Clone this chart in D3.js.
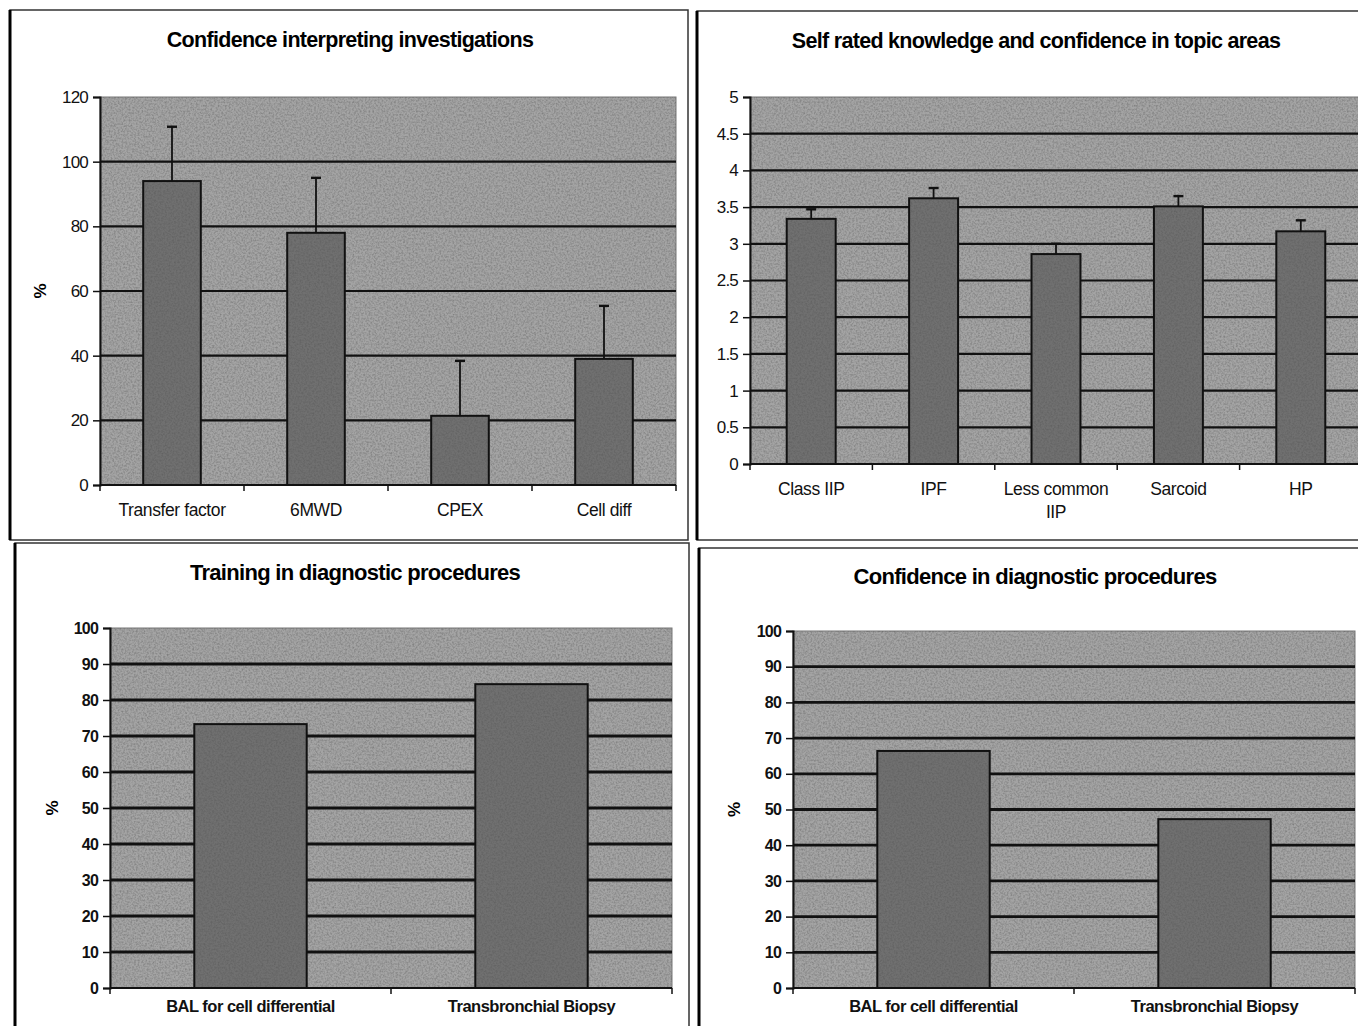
<!DOCTYPE html>
<html>
<head>
<meta charset="utf-8">
<script src="https://cdn.jsdelivr.net/npm/d3@7"></script>
<style>
  body { margin: 0; background: #fff; }
  svg { display: block; font-family: "Liberation Sans", Arial, sans-serif; }
</style>
</head>
<body>
<svg id="fig" width="1358" height="1026"></svg>
<script>
// data
const invCategories = ["Transfer factor", "6MWD", "CPEX", "Cell diff"];
const invValues = [94, 78, 21.4, 39];
const invErrors = [16.8, 17, 17, 16.4];
const invTicks = [0, 20, 40, 60, 80, 100, 120];

const topicCategories = ["Class IIP", "IPF", "Less common IIP", "Sarcoid", "HP"];
const topicValues = [3.34, 3.62, 2.86, 3.51, 3.17];
const topicErrors = [0.13, 0.14, 0.14, 0.14, 0.15];
const topicTicks = [0, 0.5, 1, 1.5, 2, 2.5, 3, 3.5, 4, 4.5, 5];

const procCategories = ["BAL for cell differential", "Transbronchial Biopsy"];
const trainingValues = [73.3, 84.4];
const confidenceValues = [66.4, 47.3];
const procTicks = [0, 10, 20, 30, 40, 50, 60, 70, 80, 90, 100];

const svg = d3.select("#fig");

// grainy texture like the scanned excel fill
const defs = svg.append("defs");
const f = defs.append("filter").attr("id", "grain").attr("x", 0).attr("y", 0).attr("width", 1).attr("height", 1);
f.append("feTurbulence").attr("type", "fractalNoise").attr("baseFrequency", 0.55).attr("numOctaves", 2).attr("seed", 3).attr("result", "n");
f.append("feColorMatrix").attr("in", "n").attr("type", "matrix")
  .attr("values", "0 0 0 0 0  0 0 0 0 0  0 0 0 0 0  0 0 0 -1.2 0.75");
f.append("feComposite").attr("in2", "SourceGraphic").attr("operator", "in");

function drawPanel(o) {
  const g = svg.append("g");

  // panel frame
  g.append("rect")
    .attr("x", o.frame[0]).attr("y", o.frame[1])
    .attr("width", o.frame[2]).attr("height", o.frame[3])
    .attr("fill", "#fff").attr("stroke", "#333").attr("stroke-width", 1.5);
  g.append("line")
    .attr("x1", o.frame[0]).attr("x2", o.frame[0])
    .attr("y1", o.frame[1]).attr("y2", o.frame[1] + o.frame[3])
    .attr("stroke", "#000").attr("stroke-width", 3);

  g.append("text")
    .attr("x", o.titleX).attr("y", o.titleY)
    .attr("text-anchor", "middle")
    .attr("font-size", o.titleFont).attr("font-weight", "bold")
    .attr("letter-spacing", -0.7)
    .text(o.title);

  const x = d3.scaleBand().domain(o.categories)
    .range([o.left, o.right]).paddingInner(0.6).paddingOuter(0.3);
  const y = d3.scaleLinear().domain([0, o.max]).range([o.bottom, o.top]);

  // plot area
  g.append("rect")
    .attr("x", o.left).attr("y", o.top)
    .attr("width", o.right - o.left).attr("height", o.bottom - o.top)
    .attr("fill", "#a4a4a4").attr("stroke", "#777").attr("stroke-width", 1);
  g.append("rect")
    .attr("x", o.left).attr("y", o.top)
    .attr("width", o.right - o.left).attr("height", o.bottom - o.top)
    .attr("fill", "#444").attr("filter", "url(#grain)").attr("opacity", 0.35);

  // gridlines
  g.append("g")
    .selectAll("line")
    .data(o.ticks.filter(t => t > 0 && t < o.max))
    .join("line")
    .attr("x1", o.left).attr("x2", o.right)
    .attr("y1", d => y(d)).attr("y2", d => y(d))
    .attr("stroke", "#111").attr("stroke-width", o.gridWidth);

  // bars
  const bars = g.append("g");
  bars.selectAll("rect.bar")
    .data(o.categories)
    .join("rect").attr("class", "bar")
    .attr("x", d => x(d)).attr("width", x.bandwidth())
    .attr("y", (d, i) => y(o.values[i]))
    .attr("height", (d, i) => o.bottom - y(o.values[i]))
    .attr("fill", "#707070").attr("stroke", "#111").attr("stroke-width", 2);
  bars.selectAll("rect.grain")
    .data(o.categories)
    .join("rect").attr("class", "grain")
    .attr("x", d => x(d) + 1).attr("width", x.bandwidth() - 2)
    .attr("y", (d, i) => y(o.values[i]) + 1)
    .attr("height", (d, i) => o.bottom - y(o.values[i]) - 2)
    .attr("fill", "#333").attr("filter", "url(#grain)").attr("opacity", 0.2);

  // error bars
  if (o.errors) {
    const eb = g.append("g").attr("stroke", "#111").attr("stroke-width", 1.8);
    o.categories.forEach((c, i) => {
      const cx = x(c) + x.bandwidth() / 2;
      eb.append("line").attr("x1", cx).attr("x2", cx)
        .attr("y1", y(o.values[i])).attr("y2", y(o.values[i] + o.errors[i]));
      eb.append("line").attr("x1", cx - 5).attr("x2", cx + 5)
        .attr("y1", y(o.values[i] + o.errors[i])).attr("y2", y(o.values[i] + o.errors[i]))
        .attr("stroke-width", 2.4);
    });
  }

  // y axis
  const ya = g.append("g").attr("transform", "translate(" + o.left + ",0)")
    .call(d3.axisLeft(y).tickValues(o.ticks).tickSize(7).tickPadding(5)
      .tickFormat(d => String(d)));
  ya.select(".domain").attr("stroke", "#111").attr("stroke-width", 2);
  ya.selectAll(".tick line").attr("stroke", "#111").attr("stroke-width", 1.5);
  ya.selectAll(".tick text")
    .attr("font-family", "'Liberation Sans', Arial, sans-serif")
    .attr("font-size", o.tickFont).attr("font-weight", o.tickWeight)
    .attr("letter-spacing", -0.8)
    .attr("fill", "#111");

  // x axis with ticks at the category boundaries
  const xg = g.append("g");
  xg.append("line").attr("x1", o.left).attr("x2", o.right)
    .attr("y1", o.bottom).attr("y2", o.bottom)
    .attr("stroke", "#111").attr("stroke-width", 2);
  const bounds = o.categories.map(c => x(c) - x.step() * 0.3).concat([o.right]);
  xg.selectAll("line.tk").data(bounds).join("line").attr("class", "tk")
    .attr("x1", d => d).attr("x2", d => d)
    .attr("y1", o.bottom).attr("y2", o.bottom + 6)
    .attr("stroke", "#111").attr("stroke-width", 1.5);

  const lab = xg.selectAll("text.cat").data(o.categories).join("text").attr("class", "cat")
    .attr("text-anchor", "middle")
    .attr("font-size", o.catFont).attr("font-weight", o.catWeight)
    .attr("letter-spacing", o.catSpacing)
    .attr("fill", "#111");
  lab.each(function (d) {
    const t = d3.select(this);
    const lines = o.wrap && o.wrap[d] ? o.wrap[d] : [d];
    lines.forEach((s, k) => {
      t.append("tspan").attr("x", x(d) + x.bandwidth() / 2)
        .attr("y", o.bottom + o.catOffset + k * 23).text(s);
    });
  });

  // y title
  g.append("text")
    .attr("transform", "translate(" + o.yLabelX + "," + ((o.top + o.bottom) / 2) + ") rotate(-90)")
    .attr("text-anchor", "middle")
    .attr("font-size", 17).attr("font-weight", "bold")
    .text(o.yLabel || "");
}

drawPanel({
  frame: [10, 10, 678, 530],
  title: "Confidence interpreting investigations", titleX: 350, titleY: 47, titleFont: 21.5,
  categories: invCategories, values: invValues, errors: invErrors,
  ticks: invTicks, max: 120, gridWidth: 2.2,
  left: 100, right: 676, top: 97, bottom: 485,
  tickFont: 17, tickWeight: "normal", catFont: 17.5, catWeight: "normal", catSpacing: -0.4, catOffset: 31,
  yLabel: "%", yLabelX: 46
});

drawPanel({
  frame: [697, 11, 680, 529],
  title: "Self rated knowledge and confidence in topic areas", titleX: 1036, titleY: 48, titleFont: 21.5,
  categories: topicCategories, values: topicValues, errors: topicErrors,
  ticks: topicTicks, max: 5, gridWidth: 2.2,
  left: 750, right: 1362, top: 97, bottom: 464,
  tickFont: 17, tickWeight: "normal", catFont: 17.5, catWeight: "normal", catSpacing: -0.4, catOffset: 31,
  wrap: { "Less common IIP": ["Less common", "IIP"] }
});

drawPanel({
  frame: [15, 543, 674, 500],
  title: "Training in diagnostic procedures", titleX: 355, titleY: 580, titleFont: 22,
  categories: procCategories, values: trainingValues,
  ticks: procTicks, max: 100, gridWidth: 2.8,
  left: 110, right: 672, top: 628, bottom: 988,
  tickFont: 16, tickWeight: "bold", catFont: 16.5, catWeight: "bold", catSpacing: -0.5, catOffset: 24,
  yLabel: "%", yLabelX: 58
});

drawPanel({
  frame: [699, 548, 680, 500],
  title: "Confidence in diagnostic procedures", titleX: 1035, titleY: 584, titleFont: 22,
  categories: procCategories, values: confidenceValues,
  ticks: procTicks, max: 100, gridWidth: 2.8,
  left: 793, right: 1355, top: 631, bottom: 988,
  tickFont: 16, tickWeight: "bold", catFont: 16.5, catWeight: "bold", catSpacing: -0.5, catOffset: 24,
  yLabel: "%", yLabelX: 740
});
</script>
</body>
</html>
